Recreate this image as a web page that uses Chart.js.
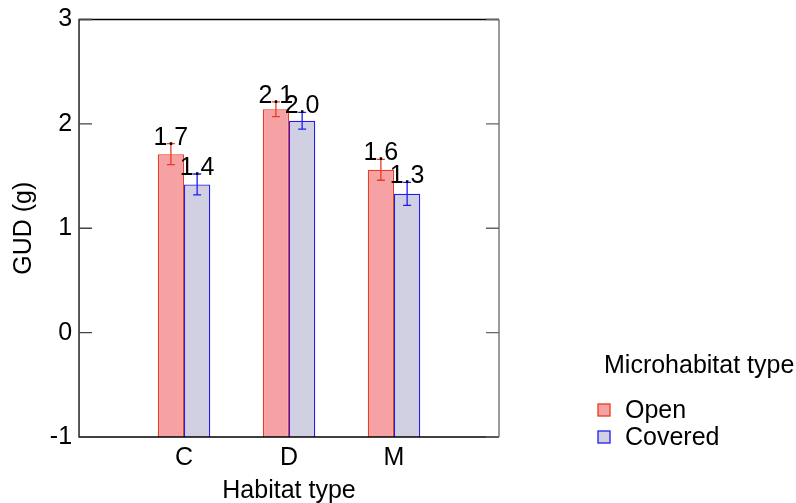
<!DOCTYPE html>
<html lang="en">
<head>
<meta charset="UTF-8">
<title>GUD by habitat type</title>
<script src="https://cdn.jsdelivr.net/npm/chart.js"></script>
<style>
    body { margin: 0; background: #fff; }
    #wrap { width: 796px; height: 503px; position: relative; }
</style>
</head>
<body>
<div id="wrap"><canvas id="gudChart"></canvas></div>
<script>
    // values
    const habitats = ['C', 'D', 'M'];
    const openGud = [1.71, 2.14, 1.56];
    const coveredGud = [1.42, 2.03, 1.33];
    const openErr = [0.10, 0.07, 0.10];
    const coveredErr = [0.10, 0.08, 0.11];
    const yTicks = [-1, 0, 1, 2, 3];
    const seriesNames = ['Open', 'Covered'];

    const FONT = "'Liberation Sans', Arial, sans-serif";
    const SIZE = 25;
    const openFill = '#f6a2a5', openLine = '#ec3c1f';
    const covFill = '#d1d0e2', covLine = '#1c1cf5';

    // empty slots on each side so C, D, M sit at 1/4, 2/4, 3/4 of the width
    const labels = ['', ...habitats, ''];
    const pad = arr => [null, ...arr, null];

    const errors = [pad(openErr), pad(coveredErr)];

    const frameAndTicks = {
        id: 'frameAndTicks',
        afterDraw(chart) {
            const { ctx, chartArea: a, scales } = chart;
            ctx.save();
            ctx.lineWidth = 1.3;
            ctx.strokeStyle = '#000';
            ctx.beginPath();
            ctx.moveTo(a.right, a.top); ctx.lineTo(a.left, a.top);
            ctx.lineTo(a.left, a.bottom); ctx.lineTo(a.right, a.bottom);
            ctx.stroke();
            ctx.strokeStyle = '#666';
            ctx.beginPath();
            ctx.moveTo(a.right, a.top); ctx.lineTo(a.right, a.bottom);
            yTicks.forEach(t => {
                const y = scales.y.getPixelForValue(t);
                ctx.moveTo(a.right, y); ctx.lineTo(a.right - 13, y);
            });
            ctx.stroke();
            ctx.strokeStyle = '#444';
            ctx.beginPath();
            yTicks.forEach(t => {
                const y = scales.y.getPixelForValue(t);
                ctx.moveTo(a.left, y); ctx.lineTo(a.left + 13, y);
            });
            ctx.stroke();
            ctx.restore();
        }
    };

    const errorBars = {
        id: 'errorBars',
        afterDatasetsDraw(chart) {
            const { ctx, scales } = chart;
            ctx.save();
            chart.data.datasets.forEach((ds, i) => {
                const meta = chart.getDatasetMeta(i);
                meta.data.forEach((bar, j) => {
                    const v = ds.data[j];
                    if (v == null) return;
                    const e = errors[i][j];
                    const yHi = scales.y.getPixelForValue(v + e);
                    const yLo = scales.y.getPixelForValue(v - e);
                    ctx.strokeStyle = ds.borderColor;
                    ctx.lineWidth = 1.3;
                    ctx.beginPath();
                    ctx.moveTo(bar.x, yHi); ctx.lineTo(bar.x, yLo);
                    ctx.moveTo(bar.x - 4, yHi); ctx.lineTo(bar.x + 4, yHi);
                    ctx.moveTo(bar.x - 4, yLo); ctx.lineTo(bar.x + 4, yLo);
                    ctx.stroke();
                    ctx.fillStyle = '#000';
                    ctx.font = SIZE + 'px ' + FONT;
                    ctx.textAlign = 'center';
                    ctx.textBaseline = 'alphabetic';
                    ctx.fillText(v.toFixed(1), bar.x, yHi + 1);
                });
            });
            ctx.restore();
        }
    };

    const sideLegend = {
        id: 'sideLegend',
        afterDraw(chart) {
            const { ctx } = chart;
            ctx.save();
            ctx.fillStyle = '#000';
            ctx.font = SIZE + 'px ' + FONT;
            ctx.textAlign = 'left';
            ctx.textBaseline = 'middle';
            ctx.fillText('Microhabitat type', 604, 366);
            chart.data.datasets.forEach((ds, i) => {
                const y = 410 + i * 27;
                ctx.fillStyle = ds.backgroundColor;
                ctx.fillRect(598, y - 6, 12, 12);
                ctx.strokeStyle = ds.borderColor;
                ctx.lineWidth = 1.3;
                ctx.strokeRect(598, y - 6, 12, 12);
                ctx.fillStyle = '#000';
                ctx.fillText(ds.label, 625, y + 1);
            });
            ctx.restore();
        }
    };

    const yFont = { family: FONT, size: SIZE, lineHeight: 1 };
    const xFont = { family: FONT, size: SIZE, lineHeight: 0.9 };

    new Chart(document.getElementById('gudChart'), {
        type: 'bar',
        data: {
            labels: labels,
            datasets: [
                { label: seriesNames[0], data: pad(openGud), backgroundColor: openFill, borderColor: openLine, borderWidth: 1.3, base: -1 },
                { label: seriesNames[1], data: pad(coveredGud), backgroundColor: covFill, borderColor: covLine, borderWidth: 1.3, base: -1 }
            ]
        },
        options: {
            responsive: true,
            maintainAspectRatio: false,
            animation: false,
            layout: { padding: { left: 10, right: 297, top: 19, bottom: 1 } },
            datasets: { bar: { categoryPercentage: 0.5, barPercentage: 1.0 } },
            plugins: { legend: { display: false }, tooltip: { enabled: false } },
            scales: {
                x: {
                    offset: false,
                    grid: { display: false, drawTicks: false },
                    border: { display: false },
                    ticks: { font: xFont, color: '#000', padding: 10, autoSkip: false, maxRotation: 0 },
                    title: { display: true, text: 'Habitat type', font: xFont, color: '#000', padding: { top: 0, bottom: 0 } }
                },
                y: {
                    min: -1, max: 3,
                    afterBuildTicks: axis => { axis.ticks = yTicks.map(v => ({ value: v })); },
                    grid: { display: false, drawTicks: false },
                    border: { display: false },
                    ticks: { font: yFont, color: '#000', padding: 7 },
                    title: { display: true, text: 'GUD (g)', font: yFont, color: '#000', padding: { top: 2, bottom: 5.8 } }
                }
            }
        },
        plugins: [frameAndTicks, errorBars, sideLegend]
    });
</script>
</body>
</html>
